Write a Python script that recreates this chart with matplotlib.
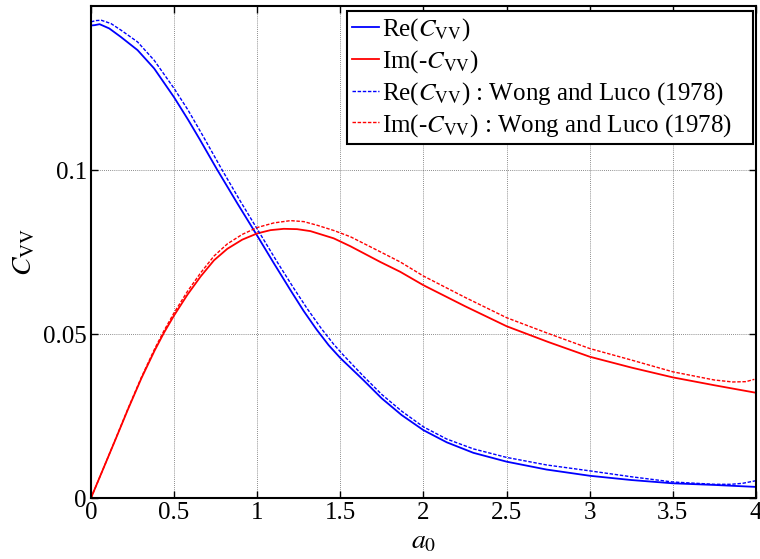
import matplotlib
matplotlib.use("Agg")
import matplotlib.pyplot as plt

plt.rcParams['font.family'] = ['Liberation Serif', 'DejaVu Serif']
plt.rcParams['mathtext.fontset'] = 'stix'

# Re(C_VV), present solution
a_re = [0, 0.022, 0.052, 0.11, 0.18, 0.28, 0.38, 0.5, 0.585, 0.654, 0.756, 0.88, 1.0, 1.1, 1.2, 1.28,
        1.357, 1.43, 1.5, 1.638, 1.749, 1.869, 2.0, 2.14, 2.3, 2.5, 2.74, 3.0, 3.25, 3.5, 3.75, 4.0]
re_c = [0.1441, 0.1442, 0.1445, 0.1432, 0.1406, 0.1366, 0.1310, 0.1222, 0.1153, 0.1094, 0.1004, 0.0899,
        0.0800, 0.0716, 0.0634, 0.0570, 0.0514, 0.0466, 0.0427, 0.0360, 0.0304, 0.0253, 0.0207, 0.0170,
        0.0138, 0.0111, 0.0087, 0.0068, 0.0055, 0.0045, 0.0040, 0.0034]

# Im(-C_VV), present solution
a_im = [0, 0.062, 0.142, 0.222, 0.303, 0.383, 0.44, 0.5, 0.58, 0.66, 0.74, 0.82, 0.91, 1.0, 1.08, 1.16,
        1.24, 1.32, 1.46, 1.56, 1.74, 1.86, 2.0, 2.25, 2.5, 2.75, 3.0, 3.25, 3.5, 3.75, 3.99]
im_c = [0, 0.0075, 0.0172, 0.0270, 0.0365, 0.0450, 0.0505, 0.0557, 0.0620, 0.0676, 0.0725, 0.0760,
        0.0788, 0.0807, 0.0817, 0.0821, 0.0820, 0.0814, 0.0792, 0.0768, 0.0720, 0.0690, 0.0649, 0.0585,
        0.0524, 0.0476, 0.0431, 0.0398, 0.0368, 0.0344, 0.0322]

# Wong and Luco (1978)
a_re_wl = [0, 0.03, 0.062, 0.12, 0.18, 0.28, 0.38, 0.5, 0.584, 0.674, 0.786, 0.9, 1.016, 1.12, 1.217,
           1.3, 1.387, 1.46, 1.518, 1.638, 1.749, 1.869, 2.0, 2.14, 2.3, 2.5, 2.74, 3.0, 3.25, 3.5, 3.75,
           3.85, 3.92, 4.0]
re_wl = [0.1452, 0.1456, 0.1457, 0.1447, 0.1427, 0.1391, 0.1335, 0.1249, 0.1183, 0.1104, 0.1003, 0.0904,
         0.0807, 0.0720, 0.0642, 0.0578, 0.0516, 0.0469, 0.0436, 0.0372, 0.0316, 0.0265, 0.0217, 0.0180,
         0.0150, 0.0124, 0.0101, 0.0083, 0.0065, 0.0049, 0.0042, 0.0042, 0.0045, 0.0053]
a_im_wl = [0, 0.062, 0.142, 0.222, 0.303, 0.383, 0.44, 0.5, 0.58, 0.66, 0.74, 0.82, 0.91, 1.0, 1.1, 1.2,
           1.28, 1.36, 1.46, 1.56, 1.74, 1.86, 2.0, 2.25, 2.5, 2.75, 3.0, 3.25, 3.5, 3.75, 3.86, 3.94, 3.99]
im_wl = [0, 0.0075, 0.0173, 0.0272, 0.0368, 0.0455, 0.0511, 0.0565, 0.0630, 0.0687, 0.0738, 0.0775,
         0.0804, 0.0825, 0.0839, 0.0846, 0.0843, 0.0832, 0.0816, 0.0797, 0.0751, 0.0720, 0.0677, 0.0612,
         0.0550, 0.0502, 0.0456, 0.0421, 0.0385, 0.0360, 0.0354, 0.0355, 0.0362]

xticks = [0, 0.5, 1, 1.5, 2, 2.5, 3, 3.5, 4]
xticklabels = ['0', '0.5', '1', '1.5', '2', '2.5', '3', '3.5', '4']
yticks = [0, 0.05, 0.1]
yticklabels = ['0', '0.05', '0.1']

fig = plt.figure(figsize=(7.6, 5.59), dpi=100)
ax = fig.add_axes([0.1197, 0.109, 0.875, 0.880])

ax.plot(a_re, re_c, color='blue', lw=1.3, label=r'Re($C_{\mathrm{VV}}$)')
ax.plot(a_im, im_c, color='red', lw=1.3, label=r'Im(-$C_{\mathrm{VV}}$)')
ax.plot(a_re_wl, re_wl, color='blue', lw=1.0, dashes=(2.5, 1.2),
        label=r'Re($C_{\mathrm{VV}}$) : Wong and Luco (1978)')
ax.plot(a_im_wl, im_wl, color='red', lw=1.0, dashes=(2.5, 1.2),
        label=r'Im(-$C_{\mathrm{VV}}$) : Wong and Luco (1978)')

ax.set_xlim(0, 4)
ax.set_ylim(0, 0.15)
ax.set_xticks(xticks)
ax.set_xticklabels(xticklabels)
ax.set_yticks(yticks)
ax.set_yticklabels(yticklabels)
ax.tick_params(direction='in', top=True, right=True, length=5, width=1, labelsize=18, pad=3)
ax.grid(True, color='black', linestyle=(0, (1, 1.5)), lw=0.6, alpha=0.6)
for s in ax.spines.values():
    s.set_linewidth(1.5)

ax.set_xlabel(r'$a_0$', fontsize=20, labelpad=4)
ax.set_ylabel(r'$C_{\mathrm{VV}}$', fontsize=20, labelpad=4)

leg = ax.legend(loc='upper left', bbox_to_anchor=(0.385, 0.0, 0.6105, 0.9898), mode='expand',
                fontsize=18, handlelength=1.1, handletextpad=0.1, labelspacing=0.2,
                borderpad=0.2, borderaxespad=0, fancybox=False, framealpha=1, edgecolor='black')
leg.get_frame().set_linewidth(1.5)

fig.savefig('out.png', dpi=100)
